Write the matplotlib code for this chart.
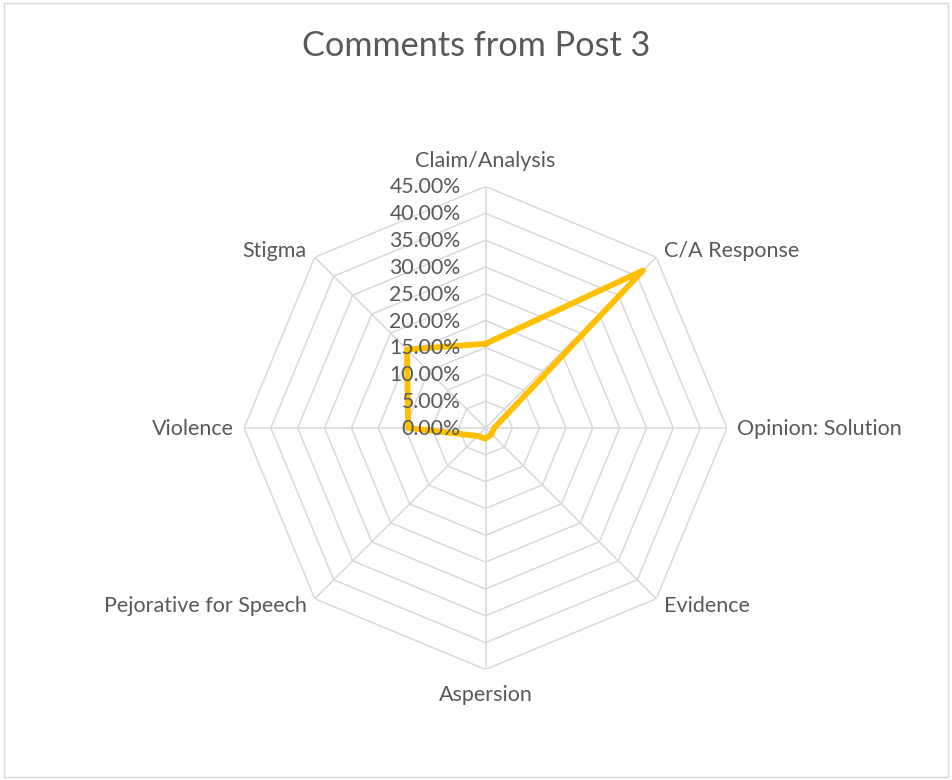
import numpy as np
import matplotlib
matplotlib.use('Agg')
import matplotlib.pyplot as plt
from matplotlib.patches import Rectangle

plt.rcParams['font.family'] = ['Lato', 'DejaVu Sans']

categories = ['Claim/Analysis', 'C/A Response', 'Opinion: Solution', 'Evidence',
              'Aspersion', 'Pejorative for Speech', 'Violence', 'Stigma']
values = [0.157, 0.415, 0.016, 0.016, 0.020, 0.021, 0.144, 0.207]
ring_levels = [0.0, 0.05, 0.10, 0.15, 0.20, 0.25, 0.30, 0.35, 0.40, 0.45]
ring_labels = ['0.00%', '5.00%', '10.00%', '15.00%', '20.00%', '25.00%',
               '30.00%', '35.00%', '40.00%', '45.00%']

text_col = '#595959'
grid_col = '#d9d9d9'
line_col = '#FFC000'

fig = plt.figure(figsize=(9.52, 7.8), dpi=100)
fig.patches.append(Rectangle((0.004, 0.004), 0.992, 0.992, transform=fig.transFigure,
                             fill=False, edgecolor='#d9d9d9', linewidth=1))
fig.text(0.5, 0.941, 'Comments from Post 3', ha='center', va='center',
         fontsize=24.7, color=text_col)

ax = fig.add_axes([0.2563, 0.1417, 0.5074, 0.6192], projection='polar')
ax.set_theta_zero_location('N')
ax.set_theta_direction(-1)
ax.set_ylim(0, 0.45)
ax.grid(False)
ax.set_xticks([])
ax.set_yticks([])
ax.spines['polar'].set_visible(False)
ax.patch.set_alpha(0)

angles = np.linspace(0, 2 * np.pi, len(categories), endpoint=False)
closed = np.append(angles, angles[0])

# octagon grid
for r in ring_levels[1:]:
    ax.plot(closed, [r] * len(closed), color=grid_col, lw=1.1, zorder=1)
for a in angles:
    ax.plot([a, a], [0, ring_levels[-1]], color=grid_col, lw=1.1, zorder=1)

# data series
ax.plot(closed, values + [values[0]], color=line_col, lw=4.2,
        solid_joinstyle='round', zorder=3)

# radial labels
for r, lab in zip(ring_levels, ring_labels):
    ax.annotate(lab, xy=(0, r), xytext=(-25, -1), textcoords='offset pixels',
                ha='right', va='center', fontsize=15.3, color=text_col, zorder=4)

# category labels
offsets = [(0, 25, 'center'), (8, 6, 'left'), (10, -1, 'left'), (8, -7, 'left'),
           (0, -26, 'center'), (-8, -7, 'right'), (-10, -1, 'right'), (-8, 6, 'right')]
for a, lab, (dx, dy, ha) in zip(angles, categories, offsets):
    ax.annotate(lab, xy=(a, ring_levels[-1]), xytext=(dx, dy), textcoords='offset pixels',
                ha=ha, va='center', fontsize=15.5, color=text_col)

fig.savefig('out.png', dpi=100)
